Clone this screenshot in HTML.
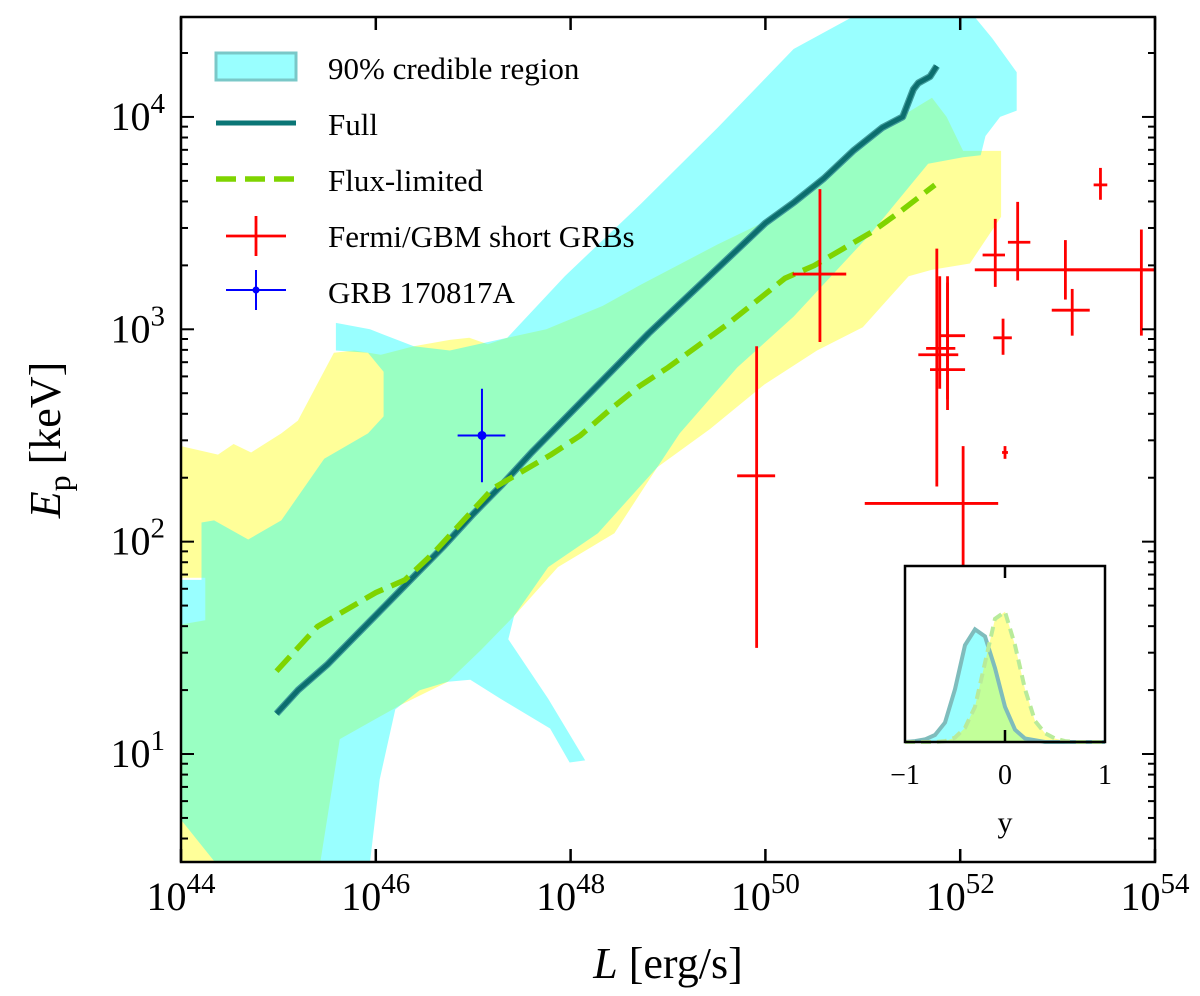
<!DOCTYPE html>
<html><head><meta charset="utf-8"><style>
html,body{margin:0;padding:0;background:#fff;}
svg{display:block;font-family:"Liberation Serif",serif;}
</style></head><body>
<svg id="chart" width="1200" height="996" viewBox="0 0 1200 996" xmlns="http://www.w3.org/2000/svg"></svg>
<script>
// ---- data (log10 units) ----
const fullLogL=[44.98,45.2,45.5,45.8,46.1,46.4,46.7,47.0,47.3,47.6,47.9,48.2,48.5,48.8,49.1,49.4,49.7,50.0,50.3,50.6,50.9,51.2,51.41,51.52,51.57,51.69,51.76];
const fullLogE=[1.19,1.30,1.42,1.56,1.70,1.84,1.98,2.13,2.27,2.42,2.56,2.70,2.84,2.98,3.11,3.24,3.37,3.50,3.60,3.71,3.84,3.95,4.00,4.13,4.16,4.19,4.24];
const fluxLogL=[44.98,45.2,45.4,45.7,46.0,46.3,46.6,46.9,47.2,47.5,47.8,48.1,48.4,48.7,49.0,49.3,49.6,49.9,50.2,50.5,50.8,51.1,51.4,51.74];
const fluxLogE=[1.39,1.50,1.60,1.68,1.76,1.82,1.95,2.10,2.25,2.33,2.41,2.50,2.62,2.73,2.82,2.92,3.02,3.13,3.24,3.30,3.38,3.46,3.56,3.68];
const grbL=[49.91,50.56,51.76,51.79,51.87,51.87,52.03,52.36,52.44,52.46,52.59,53.08,53.15,53.44,53.86];
const grbLlo=[49.71,50.28,51.57,51.65,51.69,51.79,51.02,52.23,52.34,52.43,52.49,52.15,52.94,53.37,53.08];
const grbLhi=[50.10,50.83,51.98,51.95,52.05,52.05,52.39,52.46,52.53,52.49,52.72,54.0,53.33,53.51,54.0];
const grbE=[2.31,3.26,2.88,2.91,2.81,2.97,2.18,3.35,2.96,2.42,3.41,3.28,3.09,3.68,3.28];
const grbElo=[1.50,2.94,2.26,2.72,2.67,2.62,1.89,3.20,2.88,2.39,3.23,3.14,2.97,3.61,2.97];
const grbEhi=[2.92,3.66,3.38,3.25,3.25,3.22,2.45,3.52,3.05,2.45,3.60,3.42,3.19,3.76,3.47];
const b170817=[47.09,46.84,47.33,2.50,2.28,2.72]; // L, Llo, Lhi, E, Elo, Ehi
const fullRegL=[44.00,44.21,44.21,44.34,44.69,45.03,45.47,45.92,46.08,46.08,45.92,45.59,45.59,45.94,46.39,46.76,47.35,47.94,48.72,49.51,50.29,50.89,52.15,52.33,52.58,52.58,52.41,52.26,52.21,52.03,51.67,51.08,50.29,49.71,49.12,48.89,48.28,47.77,47.42,47.36,47.77,48.15,47.99,47.79,47.28,46.97,46.74,46.45,46.20,46.04,45.94,44.35,44.00];
const fullRegE=[1.82,1.82,2.09,2.10,2.01,2.10,2.39,2.51,2.59,2.80,2.89,2.90,3.03,3.00,2.92,2.90,2.96,3.25,3.59,3.95,4.32,4.47,4.47,4.37,4.21,4.03,4.00,3.91,3.82,3.81,3.78,3.45,3.06,2.82,2.51,2.35,2.04,1.88,1.65,1.54,1.26,0.97,0.96,1.12,1.26,1.35,1.34,1.30,1.21,0.88,0.49,0.49,0.69];
const fluxRegL=[44.00,44.38,44.54,44.72,45.03,45.20,45.57,45.78,46.05,46.39,46.76,46.96,47.15,47.35,47.75,48.33,48.72,49.51,50.10,50.69,51.28,51.71,51.86,52.03,52.42,52.42,52.10,51.71,51.47,51.00,50.53,49.99,49.43,48.89,48.45,47.87,47.42,47.08,46.74,46.25,45.63,45.43,44.00,44.00,44.25,44.25,44.00];
const fluxRegE=[2.45,2.41,2.46,2.42,2.51,2.57,2.89,2.90,2.88,2.92,2.95,2.96,2.93,2.96,3.00,3.11,3.21,3.40,3.53,3.76,3.97,4.09,4.00,3.84,3.84,3.53,3.31,3.28,3.25,3.01,2.90,2.74,2.53,2.35,2.04,1.88,1.65,1.49,1.34,1.23,1.07,0.49,0.49,1.61,1.63,1.83,1.83];
const insetX=[-1,-0.9,-0.8,-0.7,-0.6,-0.5,-0.4,-0.3,-0.2,-0.1,0,0.1,0.2,0.3,0.4,0.5,0.6,0.7,0.8,0.9,1];
const insetFull=[0,0.005,0.015,0.04,0.11,0.3,0.55,0.64,0.6,0.42,0.2,0.07,0.02,0.01,0,0,0,0,0,0,0];
const insetFlux=[0,0,0,0,0.005,0.025,0.08,0.2,0.45,0.7,0.74,0.55,0.3,0.12,0.05,0.02,0.005,0,0,0,0];
const xTickExp=[44,46,48,50,52,54];
const yTickExp=[1,2,3,4];

// ---- axes ----
const X0=181,X1=1155,Y0=17,Y1=862;
const LMIN=44,LMAX=54,EMIN=0.4915,EMAX=4.4706;
const sx=v=>X0+(v-LMIN)/(LMAX-LMIN)*(X1-X0);
const sy=v=>Y1-(v-EMIN)/(EMAX-EMIN)*(Y1-Y0);
const IX0=905,IX1=1105,IY0=566,IY1=742;
const ix=v=>IX0+(v+1)/2*(IX1-IX0);
const iy=v=>IY1-v*(IY1-IY0);
const NS="http://www.w3.org/2000/svg";
const svg=document.getElementById('chart');
function mk(tag,attrs,parent){const e=document.createElementNS(NS,tag);for(const k in attrs)e.setAttribute(k,attrs[k]);(parent||svg).appendChild(e);return e;}

const clip=mk('clipPath',{id:'pc'});mk('rect',{x:X0,y:Y0,width:X1-X0,height:Y1-Y0},clip);
const plot=mk('g',{'clip-path':'url(#pc)'});



function poly(Ls,Es){return Ls.map((l,i)=>sx(l).toFixed(1)+','+sy(Es[i]).toFixed(1)).join(' ');}
const rY=mk('polygon',{points:poly(fluxRegL,fluxRegE),fill:'#ffff00','fill-opacity':0.4},plot);


const rC=mk('polygon',{points:poly(fullRegL,fullRegE),fill:'#00ffff','fill-opacity':0.4},plot);



const lfo=mk('polyline',{points:poly(fullLogL,fullLogE),fill:'none',stroke:'#3f9a9a','stroke-width':7,'stroke-linejoin':'round'},plot);


const lf=mk('polyline',{points:poly(fullLogL,fullLogE),fill:'none',stroke:'#0b6e6e','stroke-width':4.5,'stroke-linejoin':'round'},plot);


const ld=mk('polyline',{points:poly(fluxLogL,fluxLogE),fill:'none',stroke:'#7fd400','stroke-width':5.5,'stroke-dasharray':'20,9'},plot);



for(let i=0;i<grbL.length;i++){
  const g=mk('g',{stroke:'#ff0000','stroke-width':2.8},plot);
  
  
  mk('line',{x1:sx(grbLlo[i]),x2:sx(grbLhi[i]),y1:sy(grbE[i]),y2:sy(grbE[i])},g);
  mk('line',{x1:sx(grbL[i]),x2:sx(grbL[i]),y1:sy(grbElo[i]),y2:sy(grbEhi[i])},g);
}
const bg=mk('g',{stroke:'#0000ff','stroke-width':2},plot);


mk('line',{x1:sx(b170817[1]),x2:sx(b170817[2]),y1:sy(b170817[3]),y2:sy(b170817[3])},bg);
mk('line',{x1:sx(b170817[0]),x2:sx(b170817[0]),y1:sy(b170817[4]),y2:sy(b170817[5])},bg);
mk('circle',{cx:sx(b170817[0]),cy:sy(b170817[3]),r:3.5,fill:'#0000ff'},bg);

// frame & ticks
const fr=mk('rect',{x:X0,y:Y0,width:X1-X0,height:Y1-Y0,fill:'none',stroke:'#000','stroke-width':2.5});


xTickExp.forEach(e=>{
  const x=sx(e);
  mk('line',{x1:x,x2:x,y1:Y1,y2:Y1-13,stroke:'#000','stroke-width':2.5});
  mk('line',{x1:x,x2:x,y1:Y0,y2:Y0+13,stroke:'#000','stroke-width':2.5});
  const t=mk('text',{x:x,y:910,'text-anchor':'middle','font-size':40});
  
  
  t.innerHTML='10<tspan dy="-17" font-size="29">'+e+'</tspan>';
});
for(let d=0;d<=4;d++){for(let m=1;m<=9;m++){
  const v=d+Math.log10(m); if(v<EMIN||v>EMAX)continue;
  const y=sy(v), L=m===1?13:7;
  mk('line',{x1:X0,x2:X0+L,y1:y,y2:y,stroke:'#000','stroke-width':2});
  mk('line',{x1:X1,x2:X1-L,y1:y,y2:y,stroke:'#000','stroke-width':2});
}}
yTickExp.forEach(e=>{
  const t=mk('text',{x:165,y:sy(e)+13,'text-anchor':'end','font-size':40});
  
  
  t.innerHTML='10<tspan dy="-17" font-size="29">'+e+'</tspan>';
});
const xt=mk('text',{x:668,y:978,'text-anchor':'middle','font-size':44});


xt.innerHTML='<tspan font-style="italic">L</tspan> [erg/s]';
const yt=mk('text',{x:0,y:0,'text-anchor':'middle','font-size':44,transform:'translate(60,440) rotate(-90)'});


yt.innerHTML='<tspan font-style="italic">E</tspan><tspan dy="10" font-size="32">p</tspan><tspan dy="-10"> [keV]</tspan>';

// legend
const lg=mk('g',{});


mk('rect',{x:216,y:53,width:80,height:27,fill:'#00ffff','fill-opacity':0.4,stroke:'#7ac8c8','stroke-width':3},lg);
mk('line',{x1:216,x2:296,y1:123,y2:123,stroke:'#0b7676','stroke-width':5},lg);
mk('line',{x1:216,x2:296,y1:179,y2:179,stroke:'#7fd400','stroke-width':5.5,'stroke-dasharray':'20,9'},lg);
mk('line',{x1:226,x2:286,y1:236,y2:236,stroke:'#ff0000','stroke-width':2.8},lg);
mk('line',{x1:256,x2:256,y1:216,y2:256,stroke:'#ff0000','stroke-width':2.8},lg);
mk('line',{x1:226,x2:286,y1:290,y2:290,stroke:'#0000ff','stroke-width':2},lg);
mk('line',{x1:256,x2:256,y1:270,y2:310,stroke:'#0000ff','stroke-width':2},lg);
mk('circle',{cx:256,cy:290,r:3.5,fill:'#0000ff'},lg);
['90% credible region','Full','Flux-limited','Fermi/GBM short GRBs','GRB 170817A'].forEach((s,i)=>{
  const t=mk('text',{x:328,y:79+i*56,'font-size':31},lg);
  
  
  t.textContent=s;
});

// inset
const ig=mk('g',{});


mk('rect',{x:IX0,y:IY0,width:IX1-IX0,height:IY1-IY0,fill:'#fff'},ig);
const ipts=arr=>insetX.map((x,i)=>ix(x).toFixed(1)+','+iy(arr[i]).toFixed(1)).join(' ');
const ifull=ipts(insetFull), iflux=ipts(insetFlux);
const base=ix(1)+','+IY1+' '+ix(-1)+','+IY1;
const ic=mk('polygon',{points:ifull+' '+base,fill:'#00ffff','fill-opacity':0.4},ig);


const iyy=mk('polygon',{points:iflux+' '+base,fill:'#ffff00','fill-opacity':0.4},ig);


mk('polyline',{points:ifull,fill:'none',stroke:'#7fbcbc','stroke-width':4},ig);
mk('polyline',{points:iflux,fill:'none',stroke:'#b8eb9a','stroke-width':4,'stroke-dasharray':'10,6'},ig);
mk('rect',{x:IX0,y:IY0,width:IX1-IX0,height:IY1-IY0,fill:'none',stroke:'#000','stroke-width':2.5},ig);
mk('line',{x1:ix(0),x2:ix(0),y1:IY0,y2:IY0+12,stroke:'#000','stroke-width':2.5},ig);
mk('line',{x1:ix(0),x2:ix(0),y1:IY1,y2:IY1-12,stroke:'#000','stroke-width':2.5},ig);
[['−1',-1],['0',0],['1',1]].forEach(p=>{
  const t=mk('text',{x:ix(p[1]),y:784,'text-anchor':'middle','font-size':28},ig);
  
  
  t.textContent=p[0];
});
const il=mk('text',{x:1005,y:832,'text-anchor':'middle','font-size':30},ig);


il.textContent='y';
</script>
</body></html>
